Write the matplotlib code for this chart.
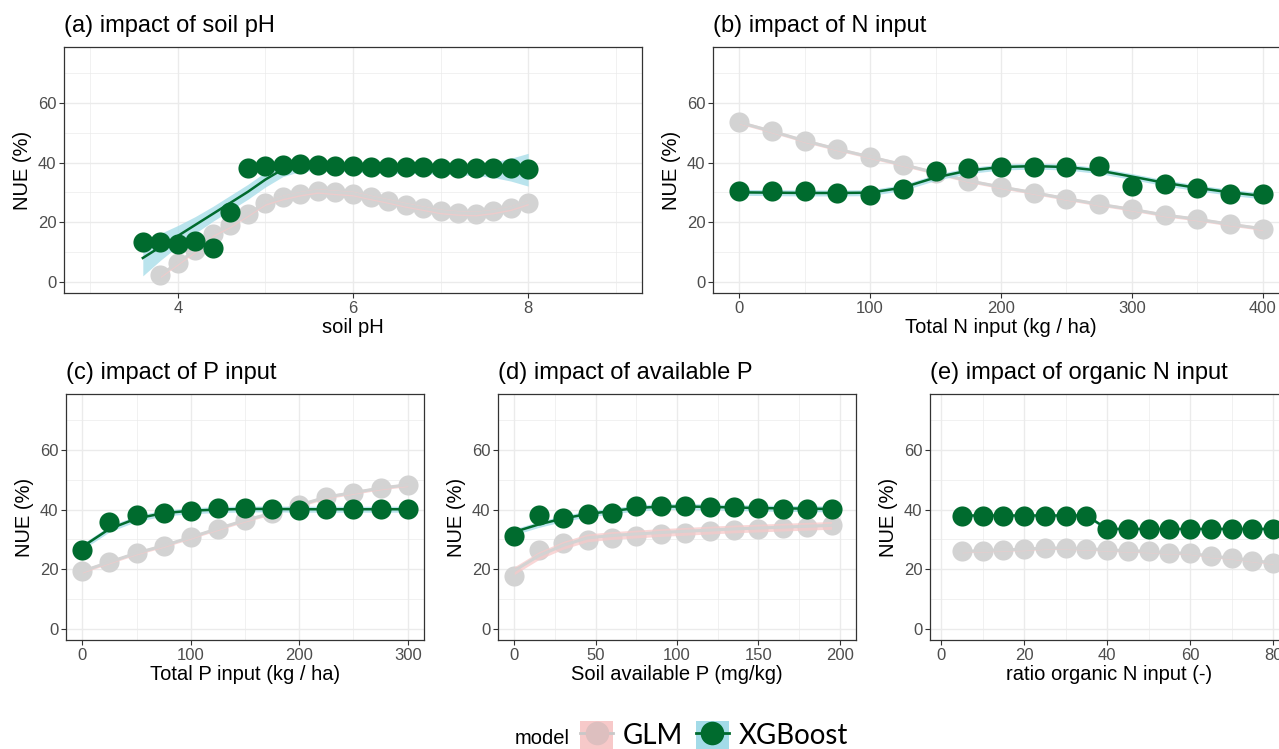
import matplotlib.pyplot as plt
from matplotlib.patches import Patch
from matplotlib.lines import Line2D
from matplotlib.legend_handler import HandlerTuple
from matplotlib.ticker import MultipleLocator

plt.rcParams['font.family'] = ['Liberation Sans', 'DejaVu Sans']

GREEN = '#006B2E'
GREY = '#D3D3D3'
BLUE = '#A3DBE8'
PINK = '#F7C9C9'

# (a) soil pH
ph_x = [3.6, 3.8, 4.0, 4.2, 4.4, 4.6, 4.8, 5.0, 5.2, 5.4, 5.6, 5.8, 6.0, 6.2, 6.4, 6.6, 6.8, 7.0, 7.2, 7.4, 7.6, 7.8, 8.0]
ph_glm = [None, 2.2, 6.4, 10.6, 16.0, 19.0, 22.7, 26.5, 28.3, 29.6, 30.5, 30.0, 29.6, 28.3, 27.1, 25.8, 24.7, 23.6, 23.1, 22.9, 23.6, 24.7, 26.6]
ph_xgb = [13.5, 13.5, 12.8, 13.8, 11.4, 23.5, 38.2, 38.8, 39.2, 39.6, 39.3, 39.0, 38.7, 38.5, 38.5, 38.4, 38.4, 38.3, 38.3, 38.3, 38.2, 38.2, 38.0]
ph_xgb_fit = [8.0, 11.7, 15.4, 19.1, 22.8, 26.5, 30.2, 34.3, 37.8, 39.0, 39.2, 39.0, 38.4, 38.0, 37.8, 37.8, 37.7, 37.7, 37.7, 37.6, 37.6, 37.6, 37.6]
ph_xgb_se = [6.0, 4.5, 3.5, 2.8, 2.5, 2.5, 2.5, 2.5, 2.5, 2.0, 1.8, 1.6, 1.5, 1.5, 1.5, 1.5, 1.5, 1.6, 1.8, 2.0, 2.6, 3.8, 5.5]

# (b) N input
n_x = [0, 25, 50, 75, 100, 125, 150, 175, 200, 225, 250, 275, 300, 325, 350, 375, 400]
n_glm = [53.5, 50.5, 47.3, 44.5, 41.9, 39.3, 36.6, 33.9, 31.8, 29.9, 27.9, 26.0, 24.3, 22.4, 21.0, 19.3, 17.8]
n_xgb = [30.3, 30.3, 30.3, 29.9, 29.0, 31.1, 37.0, 38.1, 38.4, 38.4, 38.4, 38.7, 32.2, 32.7, 31.4, 29.6, 29.4]
n_xgb_fit = [30.0, 29.9, 29.8, 29.8, 29.9, 31.6, 35.0, 37.3, 38.5, 38.8, 38.5, 37.3, 35.3, 33.2, 31.5, 30.0, 28.8]

# (c) P input
p_x = [0, 25, 50, 75, 100, 125, 150, 175, 200, 225, 250, 275, 300]
p_glm = [19.3, 22.4, 25.4, 27.9, 30.7, 33.6, 36.4, 38.8, 41.5, 44.2, 45.7, 47.2, 48.3]
p_xgb = [26.3, 35.7, 38.3, 39.0, 39.4, 40.5, 40.5, 40.3, 39.9, 40.1, 40.3, 40.1, 40.1]
p_xgb_fit = [27.5, 33.5, 37.0, 38.8, 39.6, 40.0, 40.2, 40.2, 40.1, 40.1, 40.1, 40.1, 40.1]

# (d) available P
ap_x = [0, 15, 30, 45, 60, 75, 90, 105, 120, 135, 150, 165, 180, 195]
ap_glm = [17.6, 26.5, 28.8, 29.9, 30.4, 31.2, 31.8, 32.3, 32.7, 33.2, 33.6, 33.8, 34.3, 34.7]
ap_glm_fit = [19.5, 24.5, 28.0, 30.5, 31.3, 31.8, 32.3, 32.7, 33.1, 33.5, 33.8, 34.1, 34.4, 34.7]
ap_xgb = [31.0, 38.3, 37.1, 38.6, 38.8, 41.3, 41.3, 41.3, 41.0, 40.8, 40.5, 40.3, 40.3, 40.1]
ap_xgb_fit = [32.5, 35.0, 37.0, 38.5, 39.5, 40.5, 41.0, 41.0, 40.9, 40.7, 40.5, 40.4, 40.3, 40.2]

# (e) organic N ratio
org_x = [5, 10, 15, 20, 25, 30, 35, 40, 45, 50, 55, 60, 65, 70, 75, 80]
org_glm = [26.0, 26.2, 26.5, 26.7, 27.1, 27.1, 26.9, 26.5, 26.2, 26.0, 25.4, 25.4, 24.3, 23.8, 22.9, 22.1]
org_xgb = [38.0, 38.0, 38.0, 38.0, 38.0, 38.0, 38.0, 33.5, 33.5, 33.5, 33.5, 33.5, 33.5, 33.5, 33.5, 33.5]

W, H = 1279, 749
fig = plt.figure(figsize=(W / 100, H / 100), dpi=100)


def add_panel(l, t, r, b):
    return fig.add_axes([l / W, 1 - b / H, (r - l) / W, (b - t) / H])


def band(ax, x, fit, se, color, z):
    xs, lo, hi = [], [], []
    for xi, f, s in zip(x, fit, se):
        if f is None:
            continue
        xs.append(xi)
        lo.append(f - s)
        hi.append(f + s)
    ax.fill_between(xs, lo, hi, color=color, alpha=0.75, lw=0, zorder=z)


def panel(ax, title, xlabel, x, glm, xgb, glm_fit, xgb_fit, glm_se, xgb_se,
          xlim, xmaj, xmin):
    ax.plot(x, glm, 'o', color=GREY, ms=14.5, mec='none', zorder=2)
    band(ax, x, glm_fit, glm_se, PINK, 3)
    ax.plot(x, [v if v is not None else float('nan') for v in glm_fit],
            color=GREY, lw=2.2, zorder=4)
    band(ax, x, xgb_fit, xgb_se, BLUE, 5)
    ax.plot(x, xgb, 'o', color=GREEN, ms=14.5, mec='none', zorder=6)
    ax.plot(x, xgb_fit, color=GREEN, lw=1.8, zorder=7)

    ax.set_xlim(*xlim)
    ax.set_ylim(-3.75, 78.75)
    ax.xaxis.set_major_locator(MultipleLocator(xmaj))
    ax.xaxis.set_minor_locator(MultipleLocator(xmin))
    ax.yaxis.set_major_locator(MultipleLocator(20))
    ax.yaxis.set_minor_locator(MultipleLocator(10))
    ax.set_yticks([0, 20, 40, 60])
    ax.grid(True, which='major', color='#EBEBEB', lw=1.0, zorder=0)
    ax.grid(True, which='minor', color='#EBEBEB', lw=0.5, zorder=0)
    ax.set_axisbelow(True)
    ax.tick_params(which='major', length=3.5, width=0.8, color='#333333',
                   labelsize=12, labelcolor='#4D4D4D', pad=2)
    ax.tick_params(which='minor', length=0)
    for s in ax.spines.values():
        s.set_color('#333333')
        s.set_linewidth(0.9)
    ax.set_title(title, loc='left', fontsize=17, pad=11)
    ax.set_xlabel(xlabel, fontsize=14.5, labelpad=2)
    ax.set_ylabel('NUE (%)', fontsize=14.5, labelpad=4)


ax = add_panel(64, 47, 642, 293)
panel(ax, '(a) impact of soil pH', 'soil pH', ph_x, ph_glm, ph_xgb,
      ph_glm, ph_xgb_fit, [0.8] * len(ph_x), ph_xgb_se, (2.7, 9.3), 2, 1)

ax = add_panel(713, 47, 1289, 293)
panel(ax, '(b) impact of N input', 'Total N input (kg / ha)', n_x, n_glm, n_xgb,
      n_glm, n_xgb_fit, [0.6] * len(n_x), [1.0] * len(n_x), (-20, 420), 100, 50)

ax = add_panel(66, 394, 424, 640)
panel(ax, '(c) impact of P input', 'Total P input (kg / ha)', p_x, p_glm, p_xgb,
      p_glm, p_xgb_fit, [0.6] * len(p_x), [1.0] * len(p_x), (-15, 315), 100, 50)

ax = add_panel(498, 394, 856, 640)
panel(ax, '(d) impact of available P', 'Soil available P (mg/kg)', ap_x, ap_glm, ap_xgb,
      ap_glm_fit, ap_xgb_fit, [1.3] * len(ap_x), [1.0] * len(ap_x), (-10, 210), 50, 25)

ax = add_panel(930, 394, 1288, 640)
panel(ax, '(e) impact of organic N input', 'ratio organic N input (-)', org_x, org_glm, org_xgb,
      org_glm, org_xgb, [0.5] * len(org_x), [0.6] * len(org_x), (-2.7, 83.6), 20, 10)

# legend
h_glm = (Patch(facecolor=PINK, edgecolor='none'),
         Line2D([], [], color='#C8C8C8', lw=2, marker='o', ms=17, mfc='#DDBFBF', mec='none'))
h_xgb = (Patch(facecolor=BLUE, edgecolor='none'),
         Line2D([], [], color=GREEN, lw=2, marker='o', ms=17, mfc=GREEN, mec='none'))
fig.legend([h_glm, h_xgb], ['GLM', 'XGBoost'], loc='center left',
           bbox_to_anchor=(580 / W, 1 - 735 / H), ncol=2, frameon=False,
           prop={'family': 'Lato', 'size': 20},
           handler_map={tuple: HandlerTuple(ndivide=1, pad=0)},
           handlelength=1.2, handleheight=1.2, handletextpad=0.35,
           columnspacing=0.45, borderpad=0, borderaxespad=0)
fig.text(542 / W, 1 - 738 / H, 'model', fontsize=14.5, ha='center', va='center')

fig.savefig('out.png', dpi=100)
